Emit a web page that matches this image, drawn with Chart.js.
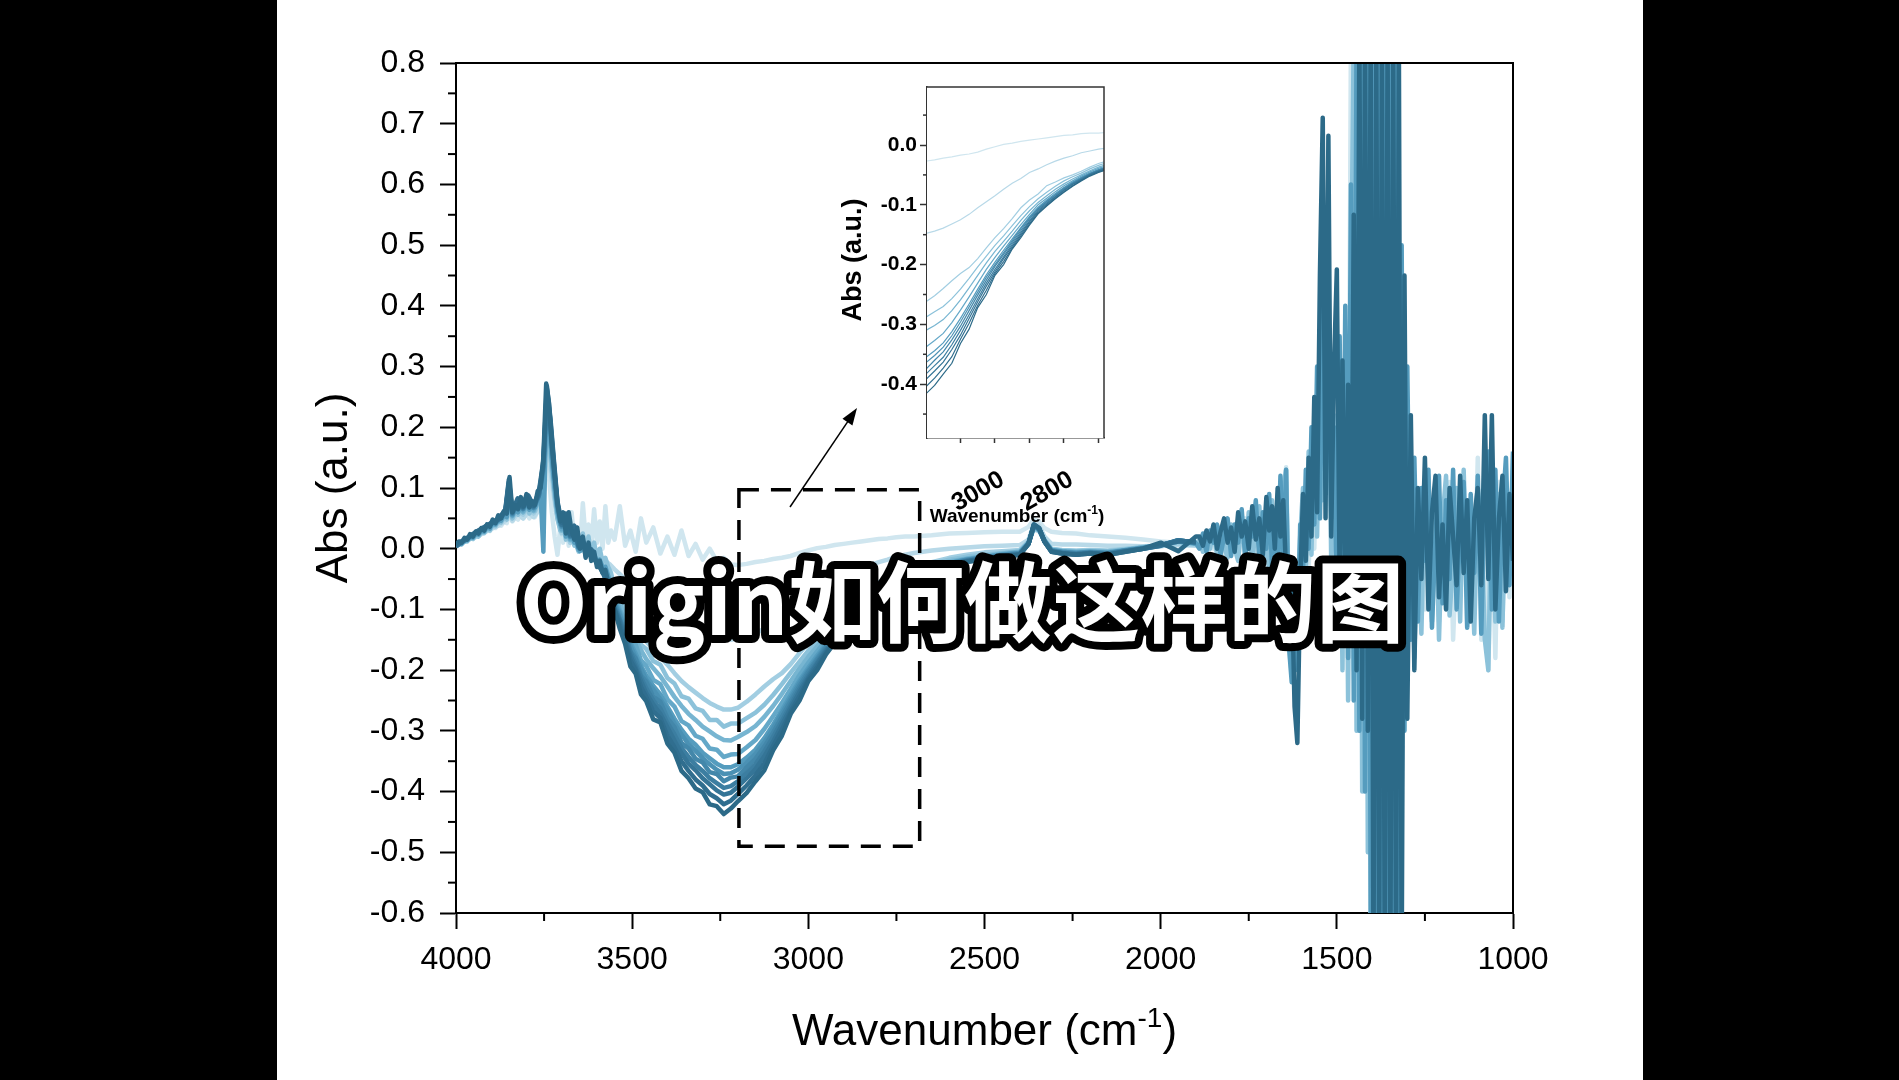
<!DOCTYPE html>
<html>
<head>
<meta charset="utf-8">
<script src="https://cdn.jsdelivr.net/npm/chart.js@4.4.1/dist/chart.umd.min.js"></script>
<style>
  html, body { margin: 0; padding: 0; background: #fff; width: 1899px; height: 1080px; overflow: hidden; }
  .bar { position: absolute; top: 0; height: 1080px; background: #000; }
  #barLeft { left: 0; width: 277px; }
  #barRight { left: 1643px; width: 256px; }
  #mainChart { position: absolute; left: 0; top: 0; }
  #insetChart { position: absolute; left: 830px; top: 70px; }
</style>
</head>
<body>
<div class="bar" id="barLeft"></div>
<div class="bar" id="barRight"></div>
<canvas id="mainChart" width="1899" height="1080"></canvas>
<canvas id="insetChart" width="300" height="470"></canvas>
<script>
// axis ticks
const xTicks = [4000, 3500, 3000, 2500, 2000, 1500, 1000];
const xMinorTicks = [3750, 3250, 2750, 2250, 1750, 1250];
const yTicks = [-0.6, -0.5, -0.4, -0.3, -0.2, -0.1, 0.0, 0.1, 0.2, 0.3, 0.4, 0.5, 0.6, 0.7, 0.8];
const yMinorTicks = [-0.55, -0.45, -0.35, -0.25, -0.15, -0.05, 0.05, 0.15, 0.25, 0.35, 0.45, 0.55, 0.65, 0.75];
const insetXTicks = [3100, 3000, 2900, 2800, 2700];
const insetXLabels = [3000, 2800];
const insetYTicks = [0.0, -0.1, -0.2, -0.3, -0.4];
const insetYMinorTicks = [0.05, -0.05, -0.15, -0.25, -0.35, -0.45];

// zoomed window (also the dashed box)
const insetXMax = 3197, insetXMin = 2684;
const insetYMax = 0.097, insetYMin = -0.49;

// wavenumbers, O-H / C-H part (all spectra)
const wnA = [
  4000, 3970, 3940, 3910, 3880, 3860, 3850, 3840, 3825, 3810,
  3795, 3780, 3765, 3752, 3742, 3732, 3722, 3712, 3700, 3688,
  3676, 3664, 3652, 3640, 3628, 3616, 3604, 3592, 3580, 3565,
  3550, 3535, 3520, 3505, 3490, 3475, 3460, 3440, 3420, 3400,
  3380, 3360, 3340, 3320, 3300, 3280, 3260, 3240, 3220, 3200,
  3175, 3150, 3125, 3100, 3075, 3050, 3025, 3000, 2975, 2950,
  2925, 2900, 2875, 2850, 2825, 2800, 2775, 2750, 2725, 2700,
  2650, 2600, 2550, 2500, 2450, 2400, 2375, 2360, 2345, 2330,
  2310, 2280, 2240, 2200, 2150, 2100, 2050, 2000, 1950, 1900
];

// wavenumbers, finer sampling of the noisy high end
const wnH = [
  4000, 3992, 3984, 3976, 3968, 3960, 3952, 3944, 3936, 3928,
  3920, 3912, 3904, 3896, 3888, 3880, 3872, 3864, 3856, 3848,
  3840, 3832, 3824, 3816, 3808, 3800, 3792, 3784, 3776, 3768,
  3760, 3752, 3744, 3736, 3728, 3720, 3712, 3704, 3696, 3688,
  3680, 3672, 3664, 3656, 3648, 3640, 3632, 3624, 3616, 3608,
  3600, 3592, 3584, 3576, 3568, 3560
];

// wavenumbers, noisy fingerprint part
const wnB = [
  1890, 1880, 1870, 1860, 1850, 1840, 1830, 1820, 1810, 1800,
  1790, 1780, 1770, 1760, 1750, 1740, 1730, 1720, 1710, 1700,
  1692, 1684, 1676, 1668, 1660, 1652, 1644, 1636, 1628, 1620,
  1612, 1604, 1596, 1588, 1580, 1572, 1564, 1556, 1548, 1540,
  1532, 1524, 1516, 1508, 1500, 1492, 1484, 1476, 1468, 1460,
  1452, 1444, 1436, 1428, 1420, 1412, 1404, 1396, 1388, 1380,
  1372, 1364, 1356, 1348, 1340, 1332, 1324, 1316, 1308, 1300,
  1290, 1280, 1270, 1260, 1250, 1240, 1230, 1220, 1210, 1200,
  1190, 1180, 1170, 1160, 1150, 1140, 1130, 1120, 1110, 1100,
  1090, 1080, 1070, 1060, 1050, 1040, 1030, 1020, 1010, 1000
];

// spectra from lightest (first) to darkest (last), on wnA
const absL1 = [
  0.008, 0.014, 0.02, 0.028, 0.035, 0.042, 0.055, 0.042, 0.05, 0.046,
  0.052, 0.046, 0.055, 0.07, 0.13, 0.1, 0.04, -0.01, 0.03, 0.045,
  0.015, 0.05, 0.01, 0.035, 0.0, 0.06, 0.012, 0.04, 0.005, 0.055,
  0.015, 0.07, 0.005, 0.03, -0.005, 0.05, 0.01, 0.035, -0.008, 0.02,
  -0.01, 0.03, -0.012, 0.008, -0.018, 0.0, -0.02, -0.015, -0.026, -0.027,
  -0.025, -0.022, -0.02, -0.017, -0.015, -0.012, -0.007, -0.003, 0.001, 0.003,
  0.006, 0.008, 0.01, 0.012, 0.014, 0.016, 0.017, 0.019, 0.02, 0.02,
  0.022, 0.025, 0.026, 0.027, 0.028, 0.028, 0.036, 0.048, 0.045, 0.034,
  0.028, 0.026, 0.025, 0.022, 0.02, 0.018, 0.015, 0.012, 0.01, 0.008
];
const absL2 = [
  0.006, 0.014, 0.02, 0.03, 0.038, 0.046, 0.065, 0.046, 0.058, 0.05,
  0.06, 0.052, 0.064, 0.085, 0.17, 0.13, 0.085, 0.048, 0.024, 0.03,
  0.01, 0.014, -0.002, 0.004, -0.006, -0.004, -0.01, -0.012, -0.018, -0.025,
  -0.034, -0.042, -0.05, -0.058, -0.066, -0.074, -0.082, -0.09, -0.098, -0.106,
  -0.114, -0.12, -0.127, -0.133, -0.138, -0.143, -0.147, -0.15, -0.15, -0.148,
  -0.144, -0.139, -0.132, -0.125, -0.116, -0.105, -0.095, -0.085, -0.074, -0.064,
  -0.056, -0.046, -0.04, -0.033, -0.027, -0.022, -0.018, -0.013, -0.01, -0.007,
  -0.003, 0.0, 0.002, 0.004, 0.005, 0.006, 0.015, 0.04, 0.038, 0.02,
  0.008, 0.007, 0.007, 0.006, 0.005, 0.005, 0.004, 0.005, 0.006, 0.005
];
const absG1 = [
  0.004, 0.013, 0.022, 0.032, 0.042, 0.05, 0.075, 0.05, 0.064, 0.056,
  0.067, 0.058, 0.072, 0.098, 0.19, 0.15, 0.098, 0.052, 0.026, 0.032,
  0.01, 0.015, -0.005, 0.0, -0.01, -0.009, -0.014, -0.018, -0.025, -0.042,
  -0.062, -0.076, -0.094, -0.111, -0.125, -0.14, -0.153, -0.166, -0.178, -0.191,
  -0.205, -0.218, -0.228, -0.237, -0.246, -0.254, -0.26, -0.265, -0.265, -0.262,
  -0.252, -0.24, -0.227, -0.215, -0.205, -0.19, -0.172, -0.155, -0.14, -0.123,
  -0.105, -0.092, -0.082, -0.068, -0.062, -0.055, -0.05, -0.044, -0.037, -0.031,
  -0.022, -0.015, -0.01, -0.006, -0.004, -0.002, 0.012, 0.032, 0.029, 0.014,
  0.0, -0.002, -0.003, -0.002, -0.003, 0.0, 0.002, 0.004, 0.008, 0.006
];
const absG2 = [
  0.005, 0.015, 0.023, 0.033, 0.043, 0.052, 0.08, 0.052, 0.067, 0.058,
  0.07, 0.06, 0.075, 0.104, 0.2, 0.16, 0.104, 0.055, 0.028, 0.035,
  0.012, 0.018, -0.004, 0.002, -0.01, -0.008, -0.015, -0.02, -0.028, -0.046,
  -0.066, -0.086, -0.1, -0.126, -0.134, -0.158, -0.165, -0.185, -0.191, -0.213,
  -0.222, -0.243, -0.247, -0.263, -0.267, -0.282, -0.282, -0.293, -0.288, -0.288,
  -0.279, -0.27, -0.257, -0.241, -0.223, -0.204, -0.186, -0.168, -0.152, -0.135,
  -0.118, -0.103, -0.09, -0.079, -0.069, -0.06, -0.053, -0.047, -0.04, -0.034,
  -0.025, -0.018, -0.013, -0.01, -0.007, -0.004, 0.011, 0.034, 0.03, 0.015,
  -0.001, -0.003, -0.004, -0.003, -0.004, -0.001, 0.003, 0.006, 0.011, 0.008
];
const absG3 = [
  0.004, 0.014, 0.024, 0.034, 0.044, 0.054, 0.086, 0.053, 0.07, 0.06,
  0.073, 0.062, 0.078, 0.11, 0.215, 0.17, 0.11, 0.058, 0.03, 0.038,
  0.014, 0.02, -0.003, 0.004, -0.01, -0.007, -0.016, -0.022, -0.031, -0.05,
  -0.074, -0.09, -0.112, -0.133, -0.149, -0.167, -0.182, -0.197, -0.21, -0.227,
  -0.244, -0.259, -0.272, -0.282, -0.293, -0.301, -0.309, -0.315, -0.316, -0.31,
  -0.302, -0.292, -0.277, -0.259, -0.239, -0.218, -0.197, -0.178, -0.161, -0.144,
  -0.126, -0.11, -0.096, -0.085, -0.074, -0.065, -0.057, -0.05, -0.043, -0.037,
  -0.028, -0.021, -0.016, -0.012, -0.008, -0.005, 0.01, 0.035, 0.031, 0.014,
  -0.002, -0.004, -0.005, -0.004, -0.005, -0.002, 0.002, 0.006, 0.012, 0.008
];
const absG4 = [
  0.006, 0.016, 0.025, 0.036, 0.045, 0.056, 0.092, 0.055, 0.072, 0.062,
  0.076, 0.064, 0.081, 0.118, 0.228, 0.18, 0.118, 0.062, 0.032, 0.042,
  0.016, 0.024, -0.002, 0.006, -0.01, -0.006, -0.017, -0.024, -0.034, -0.054,
  -0.078, -0.101, -0.118, -0.148, -0.158, -0.184, -0.193, -0.216, -0.223, -0.248,
  -0.26, -0.284, -0.291, -0.308, -0.313, -0.329, -0.331, -0.343, -0.339, -0.338,
  -0.327, -0.315, -0.297, -0.276, -0.254, -0.231, -0.208, -0.188, -0.169, -0.151,
  -0.133, -0.116, -0.1, -0.089, -0.078, -0.068, -0.06, -0.052, -0.045, -0.039,
  -0.03, -0.023, -0.017, -0.013, -0.009, -0.006, 0.01, 0.036, 0.032, 0.014,
  -0.002, -0.004, -0.006, -0.005, -0.006, -0.002, 0.002, 0.006, 0.012, 0.009
];
const absG5 = [
  0.005, 0.015, 0.026, 0.037, 0.046, 0.058, 0.098, 0.056, 0.075, 0.064,
  0.079, 0.066, 0.084, 0.125, 0.24, 0.19, 0.125, 0.066, 0.035, 0.046,
  0.018, 0.027, 0.0, 0.008, -0.01, -0.005, -0.018, -0.026, -0.037, -0.058,
  -0.086, -0.105, -0.13, -0.155, -0.173, -0.193, -0.209, -0.226, -0.24, -0.26,
  -0.28, -0.298, -0.313, -0.323, -0.336, -0.345, -0.354, -0.36, -0.36, -0.355,
  -0.344, -0.331, -0.312, -0.29, -0.266, -0.241, -0.217, -0.196, -0.176, -0.157,
  -0.138, -0.12, -0.104, -0.092, -0.081, -0.071, -0.062, -0.054, -0.047, -0.041,
  -0.031, -0.024, -0.018, -0.014, -0.01, -0.007, 0.009, 0.037, 0.032, 0.013,
  -0.003, -0.005, -0.007, -0.005, -0.007, -0.003, 0.001, 0.006, 0.013, 0.009
];
const absH1 = [
  0.006, 0.016, 0.027, 0.038, 0.047, 0.059, 0.1, 0.057, 0.077, 0.065,
  0.08, 0.067, 0.086, 0.128, 0.245, 0.195, 0.128, 0.068, 0.036, 0.048,
  0.019, 0.028, 0.001, 0.009, -0.01, -0.005, -0.018, -0.027, -0.038, -0.06,
  -0.089, -0.109, -0.134, -0.16, -0.179, -0.198, -0.216, -0.232, -0.248, -0.266,
  -0.288, -0.306, -0.322, -0.333, -0.345, -0.355, -0.364, -0.371, -0.37, -0.364,
  -0.352, -0.338, -0.319, -0.296, -0.271, -0.246, -0.221, -0.2, -0.18, -0.16,
  -0.14, -0.122, -0.106, -0.094, -0.083, -0.072, -0.063, -0.055, -0.048, -0.042,
  -0.032, -0.024, -0.018, -0.014, -0.01, -0.007, 0.009, 0.037, 0.032, 0.013,
  -0.003, -0.005, -0.007, -0.006, -0.007, -0.003, 0.001, 0.006, 0.013, 0.009
];
const absG6 = [
  0.006, 0.017, 0.027, 0.039, 0.047, 0.06, 0.104, 0.058, 0.078, 0.066,
  0.082, 0.068, 0.087, 0.132, 0.25, 0.2, 0.132, 0.07, 0.038, 0.05,
  0.02, 0.03, 0.002, 0.01, -0.01, -0.004, -0.019, -0.028, -0.04, -0.062,
  -0.09, -0.116, -0.136, -0.169, -0.181, -0.209, -0.219, -0.244, -0.252, -0.279,
  -0.294, -0.32, -0.329, -0.346, -0.352, -0.368, -0.371, -0.383, -0.377, -0.375,
  -0.36, -0.346, -0.326, -0.303, -0.277, -0.251, -0.226, -0.203, -0.183, -0.163,
  -0.143, -0.124, -0.107, -0.095, -0.084, -0.073, -0.064, -0.056, -0.048, -0.042,
  -0.032, -0.025, -0.019, -0.015, -0.011, -0.008, 0.009, 0.038, 0.033, 0.013,
  -0.003, -0.006, -0.008, -0.006, -0.008, -0.003, 0.001, 0.006, 0.014, 0.01
];
const absH2 = [
  0.005, 0.016, 0.028, 0.038, 0.048, 0.061, 0.107, 0.059, 0.079, 0.067,
  0.083, 0.069, 0.088, 0.136, 0.256, 0.205, 0.136, 0.072, 0.039, 0.052,
  0.021, 0.032, 0.003, 0.011, -0.01, -0.003, -0.019, -0.029, -0.041, -0.064,
  -0.095, -0.117, -0.143, -0.17, -0.19, -0.212, -0.23, -0.25, -0.263, -0.287,
  -0.306, -0.328, -0.343, -0.356, -0.366, -0.378, -0.386, -0.394, -0.391, -0.383,
  -0.369, -0.355, -0.334, -0.31, -0.284, -0.257, -0.231, -0.208, -0.187, -0.166,
  -0.146, -0.127, -0.109, -0.097, -0.086, -0.075, -0.065, -0.057, -0.049, -0.043,
  -0.033, -0.026, -0.02, -0.016, -0.012, -0.009, 0.008, 0.038, 0.033, 0.012,
  -0.004, -0.007, -0.009, -0.007, -0.009, -0.004, 0.0, 0.005, 0.014, 0.01
];
const absG7 = [
  0.004, 0.016, 0.028, 0.038, 0.048, 0.062, 0.11, 0.06, 0.08, 0.068,
  0.085, 0.07, 0.09, 0.14, 0.262, 0.21, 0.14, 0.075, 0.04, 0.055,
  0.022, 0.035, 0.004, 0.012, -0.01, -0.002, -0.02, -0.03, -0.042, -0.066,
  -0.098, -0.12, -0.148, -0.176, -0.196, -0.218, -0.238, -0.257, -0.272, -0.294,
  -0.316, -0.337, -0.354, -0.365, -0.378, -0.388, -0.398, -0.405, -0.402, -0.392,
  -0.378, -0.363, -0.342, -0.318, -0.29, -0.262, -0.236, -0.212, -0.19, -0.169,
  -0.149, -0.129, -0.111, -0.099, -0.087, -0.076, -0.066, -0.058, -0.05, -0.044,
  -0.034, -0.026, -0.02, -0.016, -0.012, -0.009, 0.008, 0.039, 0.033, 0.012,
  -0.004, -0.007, -0.009, -0.007, -0.009, -0.004, 0.0, 0.005, 0.014, 0.01
];
const absH3 = [
  0.006, 0.017, 0.029, 0.039, 0.049, 0.064, 0.114, 0.061, 0.083, 0.069,
  0.088, 0.071, 0.093, 0.145, 0.268, 0.215, 0.145, 0.078, 0.043, 0.058,
  0.024, 0.038, 0.005, 0.014, -0.01, -0.001, -0.02, -0.03, -0.044, -0.068,
  -0.101, -0.126, -0.152, -0.184, -0.2, -0.228, -0.244, -0.268, -0.279, -0.308,
  -0.327, -0.35, -0.366, -0.38, -0.39, -0.404, -0.411, -0.421, -0.415, -0.404,
  -0.39, -0.373, -0.354, -0.325, -0.298, -0.268, -0.243, -0.215, -0.195, -0.172,
  -0.152, -0.132, -0.113, -0.101, -0.089, -0.078, -0.068, -0.059, -0.051, -0.045,
  -0.035, -0.027, -0.021, -0.017, -0.013, -0.01, 0.008, 0.04, 0.034, 0.012,
  -0.005, -0.008, -0.01, -0.008, -0.01, -0.005, 0.0, 0.006, 0.012, 0.012
];
const absG8 = [
  0.005, 0.018, 0.03, 0.04, 0.05, 0.065, 0.118, 0.062, 0.085, 0.07,
  0.09, 0.072, 0.095, 0.15, 0.272, 0.22, 0.15, 0.08, 0.045, 0.06,
  0.025, 0.04, 0.005, 0.015, -0.01, 0.0, -0.02, -0.03, -0.045, -0.07,
  -0.1, -0.132, -0.157, -0.194, -0.206, -0.24, -0.251, -0.281, -0.286, -0.321,
  -0.336, -0.366, -0.378, -0.395, -0.401, -0.421, -0.424, -0.437, -0.428, -0.416,
  -0.402, -0.383, -0.365, -0.332, -0.308, -0.272, -0.25, -0.218, -0.2, -0.174,
  -0.155, -0.134, -0.115, -0.102, -0.09, -0.079, -0.069, -0.06, -0.052, -0.046,
  -0.036, -0.028, -0.022, -0.018, -0.014, -0.01, 0.008, 0.04, 0.034, 0.012,
  -0.005, -0.008, -0.01, -0.008, -0.01, -0.005, 0.0, 0.01, -0.004, 0.02
];

// noisy high end (wnH), four of the spectra
const headL1 = [
  0.006, 0.01, 0.009, 0.014, 0.013, 0.018, 0.017, 0.022, 0.021, 0.026,
  0.025, 0.03, 0.029, 0.035, 0.034, 0.04, 0.038, 0.045, 0.042, 0.06,
  0.045, 0.052, 0.048, 0.058, 0.05, 0.06, 0.05, 0.056, 0.052, 0.062,
  0.065, 0.08, 0.14, 0.12, 0.06, 0.02, -0.01, 0.035, 0.01, 0.05,
  0.005, 0.06, 0.01, 0.03, 0.0, 0.075, 0.015, 0.04, 0.005, 0.065,
  0.01, 0.045, 0.0, 0.07, 0.01, 0.03
];
const headG2 = [
  0.004, 0.009, 0.007, 0.013, 0.012, 0.018, 0.016, 0.022, 0.02, 0.027,
  0.026, 0.032, 0.03, 0.04, 0.037, 0.046, 0.043, 0.053, 0.048, 0.08,
  0.05, 0.06, 0.056, 0.07, 0.06, 0.075, 0.058, 0.068, 0.062, 0.078,
  0.08, 0.1, 0.2, 0.18, 0.13, 0.085, 0.05, 0.03, 0.045, 0.015,
  0.035, 0.02, 0.005, 0.03, -0.004, 0.025, -0.008, 0.02, -0.012, 0.01,
  -0.015, 0.0, -0.022, -0.015, -0.03, -0.04
];
const headG5 = [
  0.005, 0.01, 0.008, 0.015, 0.014, 0.02, 0.018, 0.025, 0.023, 0.03,
  0.028, 0.036, 0.033, 0.044, 0.04, 0.05, 0.046, 0.058, 0.052, 0.098,
  0.055, 0.066, 0.06, 0.078, 0.066, 0.084, 0.064, 0.074, 0.068, 0.088,
  0.09, -0.005, 0.24, 0.22, 0.15, 0.1, 0.062, 0.04, 0.052, 0.02,
  0.048, 0.025, 0.01, 0.028, -0.004, 0.012, -0.012, 0.004, -0.016, -0.008,
  -0.025, -0.018, -0.032, -0.03, -0.045, -0.062
];
const headG8 = [
  0.008, 0.012, 0.01, 0.018, 0.015, 0.024, 0.02, 0.028, 0.025, 0.034,
  0.03, 0.04, 0.036, 0.048, 0.042, 0.055, 0.05, 0.062, 0.058, 0.118,
  0.06, 0.072, 0.065, 0.085, 0.07, 0.09, 0.068, 0.078, 0.072, 0.095,
  0.1, 0.15, 0.272, 0.24, 0.17, 0.12, 0.075, 0.045, 0.06, 0.025,
  0.06, 0.03, 0.015, 0.035, 0.0, 0.02, -0.015, 0.01, -0.02, -0.005,
  -0.03, -0.02, -0.04, -0.035, -0.055, -0.075
];

// noisy fingerprint region (wnB), four of the spectra
const tailL1 = [
  0.005, 0.02, -0.005, 0.025, 0.0, 0.03, 0.01, -0.01, 0.035, 0.0,
  0.04, -0.015, 0.03, 0.05, -0.02, 0.04, -0.01, 0.06, -0.03, 0.05,
  -0.05, 0.07, -0.04, 0.09, -0.02, 0.06, 0.134, -0.16, -0.21, -0.05,
  -0.18, 0.0, -0.06, 0.1, -0.04, 0.15, 0.0, 0.2, 0.05, 0.25,
  0.1, 0.3, 0.05, 0.25, -0.05, 0.2, -0.1, 0.28, -0.15, 0.85,
  -0.2, 0.85, -0.3, 0.85, -0.4, 0.85, -0.7, 0.85, -0.7, 0.85,
  -0.7, 0.85, -0.7, 0.85, -0.7, 0.85, -0.3, 0.45, -0.2, 0.2,
  -0.1, 0.12, -0.12, 0.02, -0.1, 0.12, -0.03, 0.1, -0.12, 0.05,
  -0.1, 0.11, -0.15, 0.0, -0.08, 0.12, -0.13, 0.06, -0.1, 0.15,
  -0.15, 0.1, -0.2, 0.05, -0.18, 0.11, -0.12, 0.04, -0.08, 0.155
];
const tailG2 = [
  0.015, -0.005, 0.025, 0.0, 0.03, -0.01, 0.035, 0.005, -0.015, 0.04,
  0.0, -0.02, 0.05, -0.01, 0.06, -0.025, 0.04, 0.07, -0.03, 0.03,
  -0.04, 0.08, -0.03, 0.05, -0.05, 0.1, 0.13, -0.1, -0.19, -0.14,
  -0.08, 0.02, 0.1, -0.04, 0.16, -0.01, 0.2, 0.02, 0.28, 0.08,
  0.25, 0.38, -0.02, 0.22, -0.12, 0.26, -0.2, 0.3, -0.25, 0.4,
  0.85, -0.3, 0.85, -0.4, 0.85, -0.5, 0.85, -0.7, 0.85, -0.7,
  0.85, -0.7, 0.85, -0.7, 0.85, -0.7, 0.5, -0.4, 0.3, -0.2,
  0.12, -0.18, 0.06, -0.14, 0.11, 0.0, -0.12, 0.09, -0.15, 0.05,
  0.12, -0.11, -0.02, 0.1, -0.12, 0.13, -0.08, 0.02, -0.14, 0.1,
  0.04, -0.15, -0.2, 0.12, -0.12, 0.09, -0.13, 0.11, 0.0, 0.13
];
const tailG5 = [
  0.0, 0.025, -0.005, 0.03, 0.01, 0.04, -0.01, 0.02, 0.05, -0.012,
  0.04, 0.01, 0.065, -0.015, 0.05, 0.02, 0.08, -0.02, 0.06, 0.0,
  0.09, -0.03, 0.06, -0.02, 0.12, -0.04, 0.13, -0.16, -0.22, -0.1,
  -0.2, 0.04, -0.04, 0.13, 0.0, 0.2, 0.04, 0.3, 0.05, 0.4,
  0.1, 0.43, 0.05, 0.2, -0.08, 0.35, -0.12, 0.4, -0.18, 0.6,
  -0.25, 0.85, -0.3, 0.85, -0.4, 0.85, -0.6, 0.85, -0.7, 0.85,
  -0.7, 0.85, -0.7, 0.85, -0.7, 0.85, -0.7, 0.5, -0.3, 0.3,
  -0.15, 0.15, -0.12, 0.1, -0.02, 0.13, -0.13, 0.02, 0.12, -0.09,
  0.08, -0.05, 0.13, -0.1, 0.03, 0.11, -0.13, 0.09, -0.04, 0.12,
  -0.14, 0.1, 0.16, -0.1, 0.13, -0.12, 0.06, 0.15, -0.06, 0.16
];
const tailG8 = [
  0.02, 0.005, 0.03, 0.012, 0.04, 0.0, 0.028, 0.05, 0.01, 0.035,
  -0.005, 0.06, 0.02, 0.045, 0.0, 0.07, 0.015, 0.05, -0.01, 0.085,
  0.03, 0.07, 0.0, 0.1, 0.02, 0.08, -0.04, -0.13, -0.05, -0.26,
  -0.32, -0.06, 0.09, -0.02, 0.15, 0.02, 0.25, 0.06, 0.45, 0.71,
  0.05, 0.68, 0.02, 0.3, 0.46, -0.05, 0.31, -0.08, 0.27, -0.15,
  0.55, -0.2, 0.85, -0.28, 0.85, -0.3, 0.85, -0.7, 0.85, -0.7,
  0.85, -0.7, 0.85, -0.7, 0.85, -0.7, 0.85, -0.7, 0.45, -0.28,
  0.22, -0.2, 0.1, -0.05, 0.15, -0.1, 0.06, 0.12, -0.08, 0.04,
  -0.1, 0.1, 0.02, -0.06, 0.12, -0.04, 0.08, -0.12, 0.05, 0.1,
  -0.06, 0.22, -0.05, 0.22, -0.1, 0.05, 0.12, -0.07, 0.09, -0.02
];

const spectra = [absL1, absL2, absG1, absG2, absG3, absG4, absG5, absH1, absG6, absH2, absG7, absH3, absG8];
const heads = [headL1, null, null, headG2, null, null, headG5, null, null, null, null, null, headG8];
const tails = [tailL1, null, null, tailG2, null, null, tailG5, null, null, null, null, null, tailG8];
const colors = ['#d0e6ef', '#b8d9e8', '#a2cee2', '#8cc2da', '#77b5d1', '#64a8c8', '#559cbe',
  '#4b91b4', '#4387aa', '#3c7ea1', '#357597', '#306e8f', '#2c6a88'];

const toPoints = (wn, vals) => wn.map((w, i) => ({ x: w, y: vals[i] }));

const buildSeries = i => {
  let pts = toPoints(wnA, spectra[i]);
  if (heads[i]) {
    const cut = wnH[wnH.length - 1];
    pts = toPoints(wnH, heads[i]).concat(pts.filter(p => p.x < cut));
  }
  if (tails[i]) pts = pts.concat(toPoints(wnB, tails[i]));
  return pts;
};

const line = (ctx, x1, y1, x2, y2) => {
  ctx.beginPath();
  ctx.moveTo(x1, y1);
  ctx.lineTo(x2, y2);
  ctx.stroke();
};

// Main chart
const mainDecor = {
  id: 'mainDecor',
  afterDraw(chart) {
    const { ctx, chartArea: a, scales: { x, y } } = chart;
    ctx.save();
    ctx.strokeStyle = '#000';
    ctx.lineWidth = 2;
    // top and right frame
    ctx.beginPath();
    ctx.moveTo(a.left, a.top);
    ctx.lineTo(a.right, a.top);
    ctx.lineTo(a.right, a.bottom);
    ctx.stroke();
    // minor ticks
    xMinorTicks.forEach(v => {
      const px = x.getPixelForValue(v);
      line(ctx, px, a.bottom, px, a.bottom + 8);
    });
    yMinorTicks.forEach(v => {
      const py = y.getPixelForValue(v);
      line(ctx, a.left - 8, py, a.left, py);
    });

    // dashed zoom box
    const bx1 = x.getPixelForValue(insetXMax), bx2 = x.getPixelForValue(insetXMin);
    const by1 = y.getPixelForValue(insetYMax), by2 = y.getPixelForValue(insetYMin);
    ctx.setLineDash([20, 12]);
    ctx.lineWidth = 3.5;
    ctx.strokeRect(bx1, by1, bx2 - bx1, by2 - by1);
    ctx.setLineDash([]);

    // arrow to inset
    const ax1 = 790, ay1 = 507, ax2 = 857, ay2 = 408;
    const ang = Math.atan2(ay2 - ay1, ax2 - ax1);
    ctx.lineWidth = 1.5;
    line(ctx, ax1, ay1, ax2 - 12 * Math.cos(ang), ay2 - 12 * Math.sin(ang));
    ctx.fillStyle = '#000';
    ctx.beginPath();
    ctx.moveTo(ax2, ay2);
    ctx.lineTo(ax2 - 17 * Math.cos(ang) + 6 * Math.sin(ang), ay2 - 17 * Math.sin(ang) - 6 * Math.cos(ang));
    ctx.lineTo(ax2 - 17 * Math.cos(ang) - 6 * Math.sin(ang), ay2 - 17 * Math.sin(ang) + 6 * Math.cos(ang));
    ctx.closePath();
    ctx.fill();

    // axis titles
    ctx.fillStyle = '#000';
    ctx.font = '44px "Liberation Sans", Arial, sans-serif';
    ctx.textBaseline = 'alphabetic';
    const t1 = 'Wavenumber (cm', t2 = '-1', t3 = ')';
    const w1 = ctx.measureText(t1).width, w3 = ctx.measureText(t3).width;
    ctx.font = '28px "Liberation Sans", Arial, sans-serif';
    const w2 = ctx.measureText(t2).width;
    const tx = (a.left + a.right) / 2 - (w1 + w2 + w3) / 2;
    const ty = 1045;
    ctx.font = '44px "Liberation Sans", Arial, sans-serif';
    ctx.textAlign = 'left';
    ctx.fillText(t1, tx, ty);
    ctx.font = '28px "Liberation Sans", Arial, sans-serif';
    ctx.fillText(t2, tx + w1, ty - 18);
    ctx.font = '44px "Liberation Sans", Arial, sans-serif';
    ctx.fillText(t3, tx + w1 + w2, ty);

    ctx.save();
    ctx.translate(335, (a.top + a.bottom) / 2);
    ctx.rotate(-Math.PI / 2);
    ctx.textAlign = 'center';
    ctx.textBaseline = 'middle';
    ctx.fillText('Abs (a.u.)', 0, 0);
    ctx.restore();

    // caption overlay
    ctx.font = '700 88px "Noto Sans CJK SC", sans-serif';
    ctx.textAlign = 'center';
    ctx.textBaseline = 'middle';
    ctx.lineJoin = 'round';
    ctx.lineWidth = 16;
    ctx.strokeStyle = '#000';
    ctx.strokeText('Origin如何做这样的图', 962, 602);
    ctx.fillStyle = '#fff';
    ctx.fillText('Origin如何做这样的图', 962, 602);
    ctx.restore();
  }
};

const mainSets = spectra.map((vals, i) => ({
  data: buildSeries(i),
  borderColor: colors[i],
  borderWidth: 4.5,
  order: spectra.length - 1 - i,
  clip: 0
}));

new Chart(document.getElementById('mainChart'), {
  type: 'line',
  data: { datasets: mainSets },
  options: {
    responsive: false,
    animation: false,
    devicePixelRatio: 1,
    layout: { padding: { left: 277, top: 63, right: 386, bottom: 0 } },
    plugins: { legend: { display: false }, tooltip: { enabled: false } },
    elements: { point: { radius: 0 }, line: { tension: 0, borderJoinStyle: 'round' } },
    scales: {
      x: {
        type: 'linear',
        reverse: true,
        min: 1000,
        max: 4000,
        afterBuildTicks: s => { s.ticks = xTicks.map(v => ({ value: v })); },
        afterFit: s => { s.height = 167; },
        grid: { drawOnChartArea: false, drawTicks: true, tickLength: 16, tickWidth: 2, color: '#000' },
        border: { display: true, color: '#000', width: 2 },
        ticks: {
          font: { family: '"Liberation Sans", Arial, sans-serif', size: 32 },
          color: '#000', padding: 12, maxRotation: 0, autoSkip: false,
          callback: v => String(v)
        }
      },
      y: {
        type: 'linear',
        min: -0.6,
        max: 0.8,
        afterBuildTicks: s => { s.ticks = yTicks.map(v => ({ value: v })); },
        afterFit: s => { s.width = 179; },
        grid: { drawOnChartArea: false, drawTicks: true, tickLength: 16, tickWidth: 2, color: '#000' },
        border: { display: true, color: '#000', width: 2 },
        ticks: {
          font: { family: '"Liberation Sans", Arial, sans-serif', size: 32 },
          color: '#000', padding: 15, autoSkip: false,
          callback: v => v.toFixed(1)
        }
      }
    }
  },
  plugins: [mainDecor]
});

// Inset chart
const insetDecor = {
  id: 'insetDecor',
  beforeDatasetsDraw(chart) {
    const { ctx, chartArea: a } = chart;
    ctx.save();
    ctx.fillStyle = '#fff';
    ctx.fillRect(a.left, a.top, a.right - a.left, a.bottom - a.top);
    ctx.restore();
  },
  afterDraw(chart) {
    const { ctx, chartArea: a, scales: { x, y } } = chart;
    ctx.save();
    ctx.strokeStyle = '#333';
    ctx.lineWidth = 1.5;
    ctx.beginPath();
    ctx.moveTo(a.left, a.top);
    ctx.lineTo(a.right, a.top);
    ctx.lineTo(a.right, a.bottom);
    ctx.stroke();
    insetYMinorTicks.forEach(v => {
      const py = y.getPixelForValue(v);
      line(ctx, a.left - 4, py, a.left, py);
    });

    // rotated x labels
    ctx.fillStyle = '#000';
    ctx.font = 'bold 25px "Liberation Sans", Arial, sans-serif';
    insetXLabels.forEach(v => {
      const px = x.getPixelForValue(v);
      ctx.save();
      ctx.translate(px + 1, a.bottom + 29);
      ctx.rotate(-Math.PI / 6);
      ctx.textAlign = 'right';
      ctx.textBaseline = 'top';
      ctx.fillText(String(v), 0, 0);
      ctx.restore();
    });

    // titles
    ctx.font = 'bold 19px "Liberation Sans", Arial, sans-serif';
    ctx.textBaseline = 'alphabetic';
    ctx.textAlign = 'left';
    const t1 = 'Wavenumber (cm', t2 = '-1', t3 = ')';
    const w1 = ctx.measureText(t1).width, w3 = ctx.measureText(t3).width;
    ctx.font = 'bold 12px "Liberation Sans", Arial, sans-serif';
    const w2 = ctx.measureText(t2).width;
    const tx = 187 - (w1 + w2 + w3) / 2, ty = 452;
    ctx.font = 'bold 19px "Liberation Sans", Arial, sans-serif';
    ctx.fillText(t1, tx, ty);
    ctx.font = 'bold 12px "Liberation Sans", Arial, sans-serif';
    ctx.fillText(t2, tx + w1, ty - 8);
    ctx.font = 'bold 19px "Liberation Sans", Arial, sans-serif';
    ctx.fillText(t3, tx + w1 + w2, ty);

    ctx.font = 'bold 27px "Liberation Sans", Arial, sans-serif';
    ctx.translate(24, 190);
    ctx.rotate(-Math.PI / 2);
    ctx.textAlign = 'center';
    ctx.textBaseline = 'middle';
    ctx.fillText('Abs (a.u.)', 0, 0);
    ctx.restore();
  }
};

const insetSets = spectra.map((vals, i) => ({
  data: toPoints(wnA, vals),
  borderColor: colors[i],
  borderWidth: 1.2,
  order: spectra.length - 1 - i,
  clip: 0
}));

new Chart(document.getElementById('insetChart'), {
  type: 'line',
  data: { datasets: insetSets },
  options: {
    responsive: false,
    animation: false,
    devicePixelRatio: 1,
    layout: { padding: { left: 0, top: 17, right: 26, bottom: 0 } },
    plugins: { legend: { display: false }, tooltip: { enabled: false } },
    elements: { point: { radius: 0 }, line: { tension: 0 } },
    scales: {
      x: {
        type: 'linear',
        reverse: true,
        min: insetXMin,
        max: insetXMax,
        afterBuildTicks: s => { s.ticks = insetXTicks.map(v => ({ value: v })); },
        afterFit: s => { s.height = 102; },
        grid: { drawOnChartArea: false, drawTicks: true, tickLength: 5, tickWidth: 1.5, color: '#333' },
        border: { display: true, color: '#333', width: 1.5 },
        ticks: { display: true, autoSkip: false, maxRotation: 0, callback: () => '' }
      },
      y: {
        type: 'linear',
        min: insetYMin,
        max: insetYMax,
        afterBuildTicks: s => { s.ticks = insetYTicks.map(v => ({ value: v })); },
        afterFit: s => { s.width = 97; },
        grid: { drawOnChartArea: false, drawTicks: true, tickLength: 7, tickWidth: 1.5, color: '#333' },
        border: { display: true, color: '#333', width: 1.5 },
        ticks: {
          font: { family: '"Liberation Sans", Arial, sans-serif', size: 21, weight: 'bold' },
          color: '#000', padding: 3, autoSkip: false,
          callback: v => v.toFixed(1)
        }
      }
    }
  },
  plugins: [insetDecor]
});
</script>
</body>
</html>
